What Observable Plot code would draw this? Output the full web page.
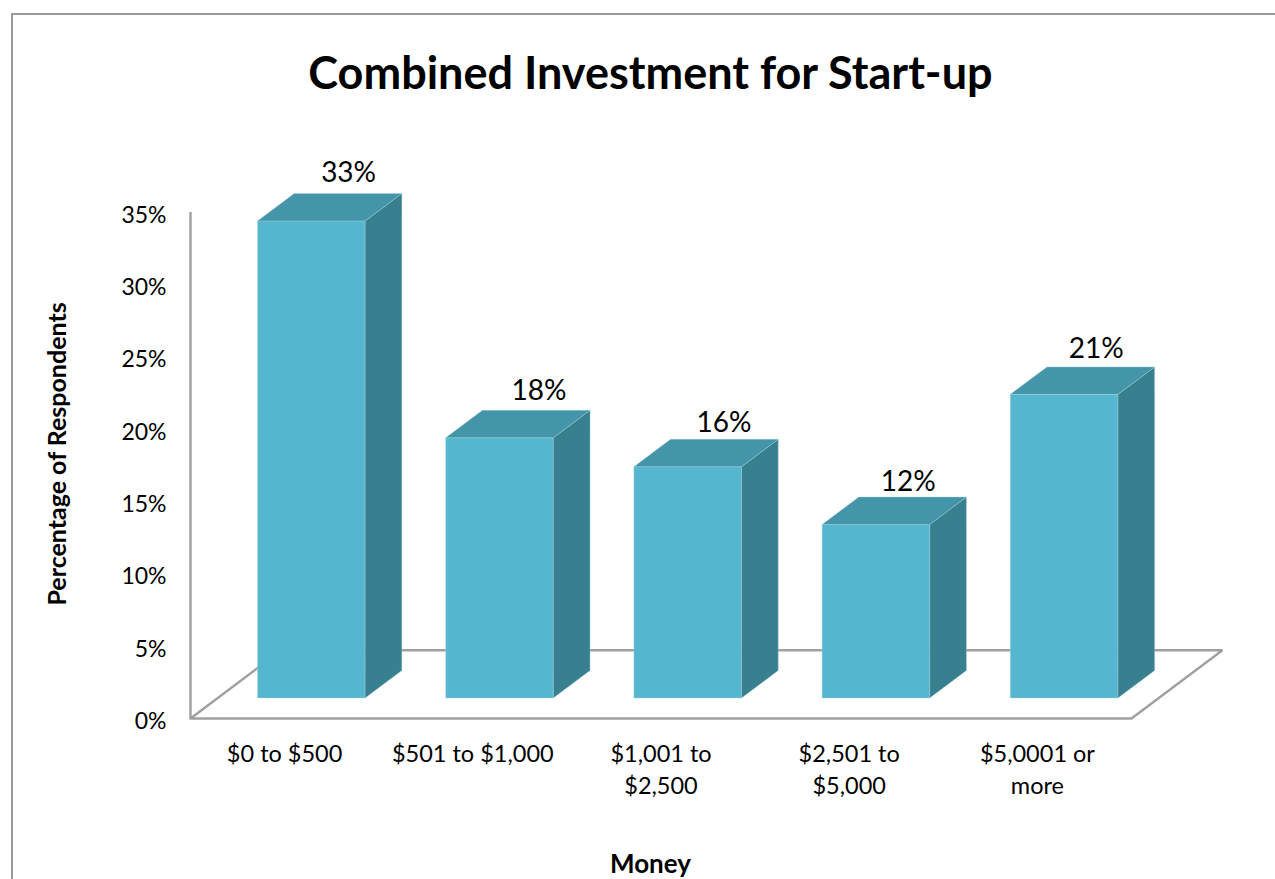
<!DOCTYPE html>
<html>
<head>
<meta charset="utf-8">
<script src="https://cdn.jsdelivr.net/npm/d3@7"></script>
<script src="https://cdn.jsdelivr.net/npm/@observablehq/plot@0.6"></script>
<style>
html,body{margin:0;padding:0;background:#fff;overflow:hidden}
#page{position:relative;width:1275px;height:879px;overflow:hidden}
#edge{position:absolute;left:11px;top:13px;width:1300px;height:900px;border-left:2px solid #9a9a9a;border-top:2px solid #9a9a9a}
#chart{position:absolute;left:0;top:0}
svg{background:transparent!important}
</style>
</head>
<body>
<div id="page"><div id="edge"></div><div id="chart"></div></div>
<script>
const categories = ["$0 to $500", "$501 to $1,000", "$1,001 to\n$2,500", "$2,501 to\n$5,000", "$5,0001 or\nmore"];
const values = [33, 18, 16, 12, 21];
const yTicks = [0, 5, 10, 15, 20, 25, 30, 35];
const labelNudgeX = [0.484, 0.495, 0.479, 0.457, 0.457];
const labelNudgeY = [1.4, 1.35, 1.15, 1.05, 1.25];

const FONT = "Lato, Carlito, sans-serif";
const COL = {front:"#54b7cf", side:"#38808f", top:"#4495a9", edge:"#a9d3de", axis:"#a0a0a0"};

// 3D geometry, in data units of the x (slots) and y (percent) scales
const floorDX = 0.483, floorDY = 4.72;
const barStart = 0.356, barWidth = 0.572, baseDY = 1.42;
const depthDX = 0.195, depthDY = 1.9;

const floor = [[0,0],[5,0],[5+floorDX,floorDY],[floorDX,floorDY],[0,0]].map(([x,y]) => ({x,y}));

const faces = values.flatMap((v, i) => {
  const x0 = i + barStart, x1 = x0 + barWidth, b = baseDY, t = baseDY + v;
  const poly = (face, pts) => pts.map(([x,y]) => ({x, y, id: face + i, face}));
  return [
    ...poly("front", [[x0,b],[x1,b],[x1,t],[x0,t],[x0,b]]),
    ...poly("side", [[x1,b],[x1+depthDX,b+depthDY],[x1+depthDX,t+depthDY],[x1,t],[x1,b]]),
    ...poly("top", [[x0,t],[x1,t],[x1+depthDX,t+depthDY],[x0+depthDX,t+depthDY],[x0,t]])
  ];
});
const faceMark = (face) => Plot.line(faces.filter(d => d.face === face), {
  x: "x", y: "y", z: "id", fill: COL[face], stroke: COL.edge, strokeWidth: 0.7, strokeOpacity: 0.55, strokeLinejoin: "round"
});
const labels = values.map((v, i) => ({x: i + barStart + labelNudgeX[i], y: v + baseDY + depthDY + labelNudgeY[i], t: v + "%"}));

const plot = Plot.plot({
  width: 1275, height: 879,
  marginLeft: 190, marginRight: 144, marginTop: 212, marginBottom: 161,
  style: {fontFamily: FONT, color: "#000", background: "transparent"},
  x: {domain: [0, 5], axis: null},
  y: {domain: [0, 35], axis: null},
  marks: [
    Plot.line(floor, {x:"x", y:"y", stroke: COL.axis, strokeWidth: 2.4, strokeLinejoin:"miter"}),
    Plot.ruleX([0], {y1: 0, y2: 35, stroke: COL.axis, strokeWidth: 2.4}),
    faceMark("front"), faceMark("side"), faceMark("top"),
    Plot.axisY({ticks: yTicks, tickFormat: d => d + "%", tickSize: 0, tickPadding: 24, label: null, fontSize: 23, dy: 3}),
    Plot.axisX({ticks: categories.map((_, i) => i + 0.5), tickFormat: d => categories[d - 0.5], tickSize: 0, tickPadding: 21, label: null, fontSize: 23.5, lineHeight: 1.36, textAnchor:"middle", lineAnchor:"top"}),
    Plot.text(labels, {x:"x", y:"y", text:"t", fontSize: 28, fill:"#000"}),
    Plot.text(["Combined Investment for Start-up"], {x: 2.444, y: 44.55, fontSize: 45, fontWeight: 700, fill:"#000"}),
    Plot.text(["Percentage of Respondents"], {x: -0.705, y: 18.3, rotate: -90, fontSize: 25, fontWeight: 700, fill:"#000"}),
    Plot.text(["Money"], {x: 2.444, y: -10.1, fontSize: 26, fontWeight: 700, fill:"#000"})
  ]
});
document.getElementById("chart").append(plot);
</script>
</body>
</html>
